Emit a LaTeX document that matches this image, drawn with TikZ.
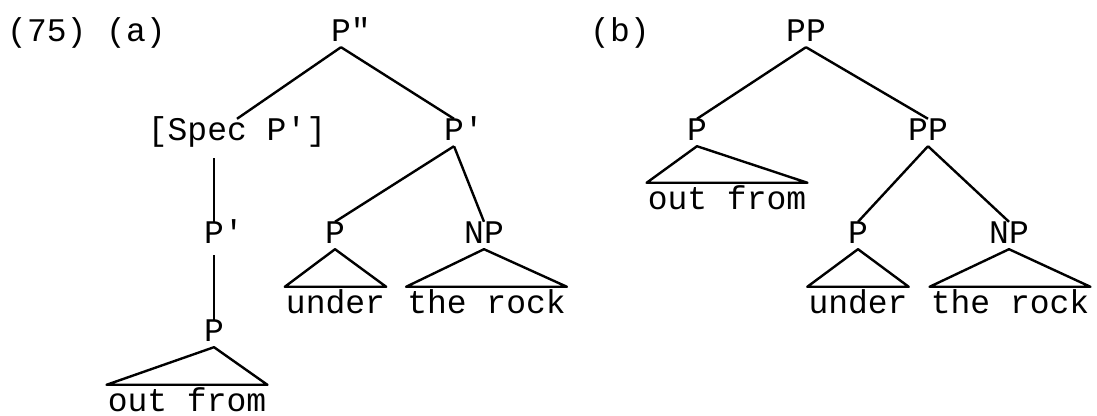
\documentclass[tikz,border=0pt]{standalone}
\usepackage{fontspec}
\setmonofont{Liberation Mono}
\usepackage{tikz}

\tikzset{
  cat/.style={inner sep=2pt, text height=8.5pt, text depth=0pt, anchor=base},
  word/.style={inner xsep=0pt, inner ysep=1.5pt, text height=11.5pt, text depth=0pt, anchor=base},
  exnum/.style={inner sep=0pt, anchor=base west}
}

\begin{document}
\begin{tikzpicture}[x=0.5pt, y=-0.5pt, line width=1.2pt, line join=round,
    font=\ttfamily\fontsize{16.5}{20}\selectfont]
        \useasboundingbox (0, 0) rectangle (1097, 416);

        \node[exnum] (exa) at (6, 42) {(75) (a)};
        \node[cat] (Pdbl) at (341, 42) {P\rlap{"}};
        \node[cat] (spec) at (237, 141) {[Spec P']};
        \node[cat] (Pbar) at (454, 141) {P\rlap{'}};
        \node[cat] (PbarL) at (214, 244) {P\rlap{'}};
        \node[cat] (Plow) at (214, 342) {P};
        \node[cat] (Pa) at (335, 244) {P};
        \node[cat] (NPa) at (484, 244) {NP};
        \node[word] (undera) at (335.5, 314) {under};
        \node[word] (rocka) at (486.5, 314) {the rock};
        \node[word] (outa) at (187, 412) {out from};

        \draw (Pdbl.south) -- (spec.north);
        \draw (Pdbl.south) -- (Pbar.north);
        \draw[shorten <=6pt] (spec.south -| PbarL.north) -- (PbarL.north);
        \draw[shorten <=3pt] (PbarL.south) -- (Plow.north);
        \draw (Pbar.south) -- (Pa.north);
        \draw (Pbar.south) -- (NPa.north);
        \draw (Pa.south) -- (undera.north west) -- (undera.north east) -- cycle;
        \draw (NPa.south) -- (rocka.north west) -- (rocka.north east) -- cycle;
        \draw (Plow.south) -- (outa.north west) -- (outa.north east) -- cycle;

        \node[exnum] (exb) at (589, 42) {(b)};
        \node[cat] (PPb) at (806, 42) {PP};
        \node[cat] (Pb) at (697, 141) {P};
        \node[cat] (PPbb) at (928, 141) {PP};
        \node[cat] (Pbb) at (858, 244) {P};
        \node[cat] (NPb) at (1009, 244) {NP};
        \node[word] (outb) at (727, 210) {out from};
        \node[word] (underb) at (858, 314) {under};
        \node[word] (rockb) at (1010, 314) {the rock};

        \draw (PPb.south) -- (Pb.north);
        \draw (PPb.south) -- (PPbb.north);
        \draw (PPbb.south) -- (Pbb.north);
        \draw (PPbb.south) -- (NPb.north);
        \draw (Pb.south) -- (outb.north west) -- (outb.north east) -- cycle;
        \draw (Pbb.south) -- (underb.north west) -- (underb.north east) -- cycle;
        \draw (NPb.south) -- (rockb.north west) -- (rockb.north east) -- cycle;
      \end{tikzpicture}
\end{document}
